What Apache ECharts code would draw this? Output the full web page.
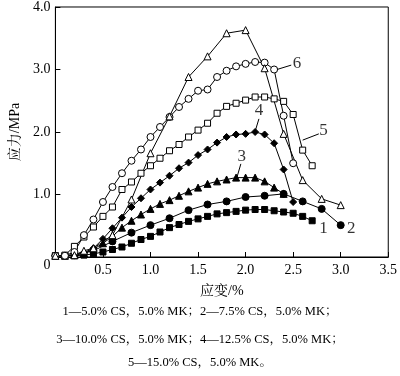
<!DOCTYPE html>
<html>
<head>
<meta charset="utf-8">
<script src="https://cdn.jsdelivr.net/npm/echarts@6/dist/echarts.min.js"></script>
<style>
  html, body { margin: 0; padding: 0; background: #fff; }
  #chart { width: 400px; height: 376px; }
</style>
</head>
<body>
<div id="chart"></div>
<script>
  // 应变 / 应力 数据
  var strain1 = [0,0.1,0.2,0.3,0.4,0.5,0.6,0.7,0.8,0.9,1.0,1.1,1.2,1.3,1.4,1.5,1.6,1.7,1.8,1.9,2.0,2.1,2.2,2.3,2.4,2.5,2.6,2.7];
  var stress1 = [0.02,0.02,0.02,0.03,0.05,0.08,0.12,0.16,0.22,0.28,0.33,0.40,0.47,0.52,0.57,0.61,0.65,0.69,0.71,0.73,0.75,0.76,0.76,0.74,0.72,0.70,0.65,0.58];

  var strain2 = [0,0.2,0.4,0.6,0.8,1.0,1.2,1.4,1.6,1.8,2.0,2.2,2.4,2.6,2.8,3.0];
  var stress2 = [0.02,0.03,0.10,0.25,0.39,0.51,0.62,0.75,0.84,0.89,0.96,0.98,1.01,0.89,0.77,0.51];

  var strain3 = [0,0.1,0.2,0.3,0.4,0.5,0.6,0.7,0.8,0.9,1.0,1.1,1.2,1.3,1.4,1.5,1.6,1.7,1.8,1.9,2.0,2.1,2.2,2.3,2.4];
  var stress3 = [0.02,0.02,0.03,0.06,0.12,0.22,0.33,0.47,0.58,0.68,0.77,0.85,0.91,0.98,1.05,1.11,1.17,1.21,1.24,1.27,1.27,1.27,1.21,1.11,1.01];

  var strain4 = [0,0.1,0.2,0.3,0.4,0.5,0.6,0.7,0.8,0.9,1.0,1.1,1.2,1.3,1.4,1.5,1.6,1.7,1.8,1.9,2.0,2.1,2.2,2.3,2.4,2.5];
  var stress4 = [0.02,0.02,0.03,0.07,0.14,0.29,0.46,0.63,0.80,0.94,1.08,1.19,1.30,1.42,1.51,1.63,1.72,1.83,1.92,1.96,1.97,2.00,1.96,1.82,1.40,0.88];

  var strain5 = [0,0.1,0.2,0.3,0.4,0.5,0.6,0.7,0.8,0.9,1.0,1.1,1.2,1.3,1.4,1.5,1.6,1.7,1.8,1.9,2.0,2.1,2.2,2.3,2.4,2.5,2.6,2.7];
  var stress5 = [0.02,0.03,0.17,0.32,0.48,0.65,0.80,1.08,1.20,1.34,1.46,1.58,1.70,1.80,1.92,2.03,2.14,2.30,2.41,2.46,2.51,2.56,2.56,2.53,2.49,2.28,1.71,1.46];

  var strain6 = [0,0.1,0.2,0.3,0.4,0.5,0.6,0.7,0.8,0.9,1.0,1.1,1.2,1.3,1.4,1.5,1.6,1.7,1.8,1.9,2.0,2.1,2.2,2.3,2.4,2.5];
  var stress6 = [0.02,0.02,0.08,0.35,0.60,0.88,1.12,1.34,1.54,1.72,1.92,2.08,2.24,2.40,2.53,2.66,2.68,2.88,2.98,3.05,3.09,3.12,3.11,3.00,2.26,1.50];

  var strain7 = [0,0.2,0.3,0.4,0.6,0.8,1.0,1.2,1.4,1.6,1.8,2.0,2.2,2.4,2.6,2.8,3.0];
  var stress7 = [0.02,0.03,0.10,0.14,0.35,0.92,1.66,2.25,2.88,3.21,3.58,3.63,3.02,1.97,1.23,0.93,0.83];

  var xTicks = [0, 0.5, 1.0, 1.5, 2.0, 2.5, 3.0, 3.5];
  var yTicks = [0, 1.0, 2.0, 3.0, 4.0];

  // 曲线编号及引线（数据坐标）
  var curveLabels = [
    ['1', 2.82, 0.46], ['2', 3.11, 0.46], ['3', 1.96, 1.60],
    ['4', 2.14, 2.34], ['5', 2.82, 2.02], ['6', 2.54, 3.10]
  ];
  var leaders = [
    [[1.95, 1.49], [1.91, 1.28]],
    [[2.14, 2.21], [2.10, 2.01]],
    [[2.77, 1.97], [2.60, 1.87]],
    [[2.48, 3.07], [2.33, 3.00]]
  ];

  var serif = 'Liberation Serif, "Noto Serif CJK SC", "Noto Sans CJK SC", serif';

  function pairs(xs, ys) {
    return xs.map(function (x, i) { return [x, ys[i]]; });
  }

  function makeLine(name, xs, ys, symbol, size, filled) {
    return {
      name: name,
      type: 'line',
      data: pairs(xs, ys),
      symbol: symbol,
      symbolSize: size,
      showAllSymbol: true,
      lineStyle: { color: '#000', width: 1 },
      itemStyle: {
        color: filled ? '#000' : '#fff',
        borderColor: '#000',
        borderWidth: 1
      },
      z: 3,
      animation: false
    };
  }

  var series = [
    makeLine('1', strain1, stress1, 'rect', 6, true),
    makeLine('2', strain2, stress2, 'circle', 7, true),
    makeLine('3', strain3, stress3, 'triangle', 7, true),
    makeLine('4', strain4, stress4, 'diamond', 7, true),
    makeLine('5', strain5, stress5, 'rect', 6, false),
    makeLine('6', strain6, stress6, 'circle', 7, false),
    makeLine('7', strain7, stress7, 'triangle', 7, false)
  ];

  // 编号文字
  series.push({
    type: 'scatter',
    data: curveLabels.map(function (l) { return { name: l[0], value: [l[1], l[2]] }; }),
    symbolSize: 0,
    silent: true,
    animation: false,
    label: {
      show: true,
      position: 'inside',
      formatter: '{b}',
      color: '#000',
      fontSize: 17,
      fontFamily: serif
    }
  });
  // 引线
  series.push({
    type: 'line',
    data: [],
    silent: true,
    animation: false,
    markLine: {
      silent: true,
      symbol: ['none', 'none'],
      animation: false,
      label: { show: false },
      lineStyle: { color: '#000', width: 1, type: 'solid' },
      data: leaders.map(function (seg) {
        return [{ coord: seg[0] }, { coord: seg[1] }];
      })
    }
  });

  var myChart = echarts.init(document.getElementById('chart'));
  myChart.setOption({
    backgroundColor: '#fff',
    animation: false,
    grid: {
      left: 52,
      right: 8,
      top: 5,
      bottom: 119,
      show: true,
      borderColor: '#000',
      borderWidth: 1
    },
    xAxis: {
      type: 'value',
      min: xTicks[0],
      max: xTicks[xTicks.length - 1],
      interval: 0.5,
      name: '应变/%',
      nameLocation: 'middle',
      nameGap: 27,
      nameTextStyle: { color: '#000', fontSize: 14, fontFamily: serif },
      axisLine: { lineStyle: { color: '#000', width: 1 } },
      axisTick: { inside: true, length: 5, lineStyle: { color: '#000' } },
      splitLine: { show: false },
      axisLabel: {
        color: '#000',
        fontSize: 14,
        fontFamily: serif,
        margin: 6,
        showMinLabel: false,
        formatter: function (v) { return v.toFixed(1); }
      }
    },
    yAxis: {
      type: 'value',
      min: yTicks[0],
      max: yTicks[yTicks.length - 1],
      interval: 1,
      name: '应力/MPa',
      nameLocation: 'middle',
      nameGap: 32,
      nameRotate: 90,
      nameTextStyle: { color: '#000', fontSize: 14, fontFamily: serif },
      axisLine: { show: true, lineStyle: { color: '#000', width: 1 } },
      axisTick: { show: true, inside: true, length: 5, lineStyle: { color: '#000' } },
      splitLine: { show: false },
      axisLabel: {
        color: '#000',
        fontSize: 14,
        fontFamily: serif,
        margin: 5,
        showMinLabel: true,
        formatter: function (v) { return v === 0 ? '{z|0}' : v.toFixed(1); },
        rich: {
          z: { fontSize: 14, fontFamily: serif, color: '#000', padding: [16, 0, 0, 0] }
        }
      }
    },
    graphic: [
      {
        type: 'text', left: 'center', top: 305,
        style: { text: '1—5.0% CS，5.0% MK；2—7.5% CS，5.0% MK；', fill: '#000', font: '12.5px ' + serif }
      },
      {
        type: 'text', left: 'center', top: 333,
        style: { text: '3—10.0% CS，5.0% MK；4—12.5% CS，5.0% MK；', fill: '#000', font: '12.5px ' + serif }
      },
      {
        type: 'text', left: 'center', top: 356,
        style: { text: '5—15.0% CS，5.0% MK。', fill: '#000', font: '12.5px ' + serif }
      }
    ],
    series: series
  });
</script>
</body>
</html>
